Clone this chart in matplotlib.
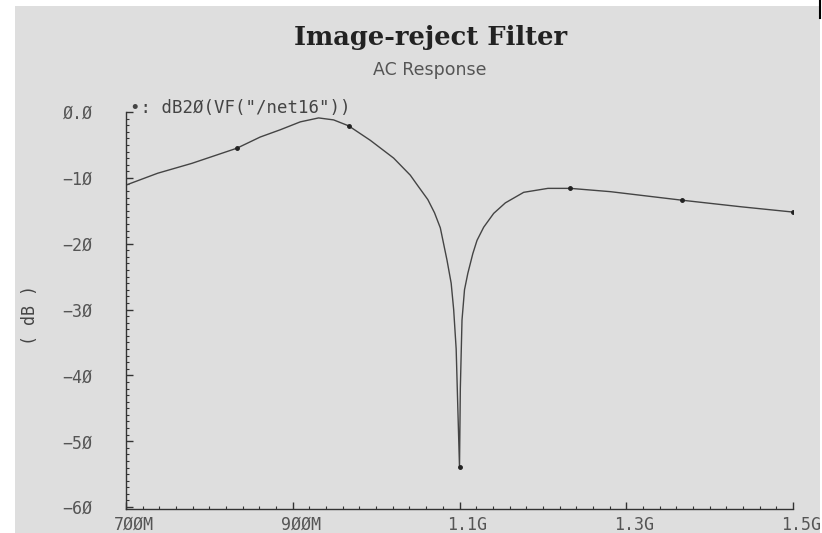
import numpy as np
import matplotlib.pyplot as plt
from matplotlib.patches import Rectangle
from matplotlib.lines import Line2D
from matplotlib.ticker import MultipleLocator, FixedLocator
import matplotlib.transforms as mtransforms

# AC response (frequency in MHz, gain in dB)
freq = [700, 738, 779, 833, 861, 885, 909, 931, 949, 967, 993, 1021, 1041,
        1050, 1062, 1070, 1077, 1085, 1090, 1093, 1096, 1098, 1100, 1101,
        1103, 1106, 1110, 1116, 1121, 1129, 1141, 1155, 1177, 1206, 1233,
        1281, 1367, 1438, 1500]
gain = [-11.1, -9.3, -7.8, -5.5, -3.8, -2.7, -1.5, -0.9, -1.2, -2.1, -4.3,
        -7.0, -9.6, -11.2, -13.3, -15.3, -17.6, -22.5, -26.0, -30.0, -36.0,
        -45.0, -53.9, -42.0, -31.6, -27.0, -24.5, -21.5, -19.5, -17.5, -15.4,
        -13.8, -12.2, -11.6, -11.6, -12.1, -13.4, -14.4, -15.2]
marker_freq = [833, 967, 1100, 1233, 1367, 1500]

x_ticks = [700, 900, 1100, 1300, 1500]
x_labels = ["7ØØM", "9ØØM", "1.1G", "1.3G", "1.5G"]
y_ticks = [0, -10, -20, -30, -40, -50, -60]
y_labels = ["Ø.Ø", "\u22121Ø", "\u22122Ø", "\u22123Ø", "\u22124Ø", "\u22125Ø", "\u22126Ø"]

W, H = 822, 533
fig = plt.figure(figsize=(W / 100, H / 100), dpi=100, facecolor="white")

# grey plot window
fig.add_artist(Rectangle((15 / W, 0), (820 - 15) / W, (H - 6) / H,
                         transform=fig.transFigure, facecolor="#dedede",
                         edgecolor="none", zorder=0))
fig.add_artist(Line2D([820 / W, 820 / W], [1, 1 - 18 / H],
                      transform=fig.transFigure, color="black", lw=1.5))

ax = fig.add_axes([126 / W, (H - 509) / H, (793 - 126) / W, (509 - 112) / H])
ax.set_facecolor("none")

idx = [freq.index(f) for f in marker_freq]
ax.plot(freq, gain, color="#444444", lw=1.0, marker="o", ms=2.5,
        markevery=idx, mfc="#222222", mec="#222222")

ax.set_xlim(700, 1500)
ax.set_ylim(-60.3, 0)

for s in ["top", "right"]:
    ax.spines[s].set_visible(False)
for s in ["left", "bottom"]:
    ax.spines[s].set_color("#333333")
    ax.spines[s].set_linewidth(1.0)

ax.xaxis.set_major_locator(FixedLocator(x_ticks))
ax.xaxis.set_minor_locator(MultipleLocator(20))
ax.yaxis.set_major_locator(FixedLocator(y_ticks))
ax.yaxis.set_minor_locator(MultipleLocator(1))
ax.set_xticklabels(x_labels)
ax.set_yticklabels(y_labels)

ax.tick_params(which="both", direction="in", color="#333333")
ax.tick_params(which="major", length=5, width=1)
ax.tick_params(which="minor", length=2.5, width=0.8)
ax.tick_params(axis="x", labelsize=12, labelcolor="#555555", pad=5)
ax.tick_params(axis="y", labelsize=12, labelcolor="#555555", pad=24)
for lab in ax.get_xticklabels() + ax.get_yticklabels():
    lab.set_family("DejaVu Sans Mono")
offset = mtransforms.ScaledTranslation(8 / 100, 0, fig.dpi_scale_trans)
for lab in ax.get_xticklabels():
    lab.set_transform(lab.get_transform() + offset)

fig.text(431 / W, 1 - 38 / H, "Image-reject Filter", ha="center", va="center",
         family="DejaVu Serif", weight="bold", fontsize=18.5, color="#222222")
fig.text(430 / W, 1 - 70 / H, "AC Response", ha="center", va="center",
         family="DejaVu Sans", fontsize=12.5, color="#555555")
fig.text(130 / W, 1 - 108 / H, "\u2022: dB2Ø(VF(\"/net16\"))", ha="left",
         va="center", family="DejaVu Sans Mono", fontsize=12.5, color="#444444")
fig.text(30 / W, 1 - 315 / H, "( dB )", ha="center", va="center", rotation=90,
         family="DejaVu Sans Mono", fontsize=12, color="#444444")

fig.savefig("out.png", dpi=100, facecolor="white")
